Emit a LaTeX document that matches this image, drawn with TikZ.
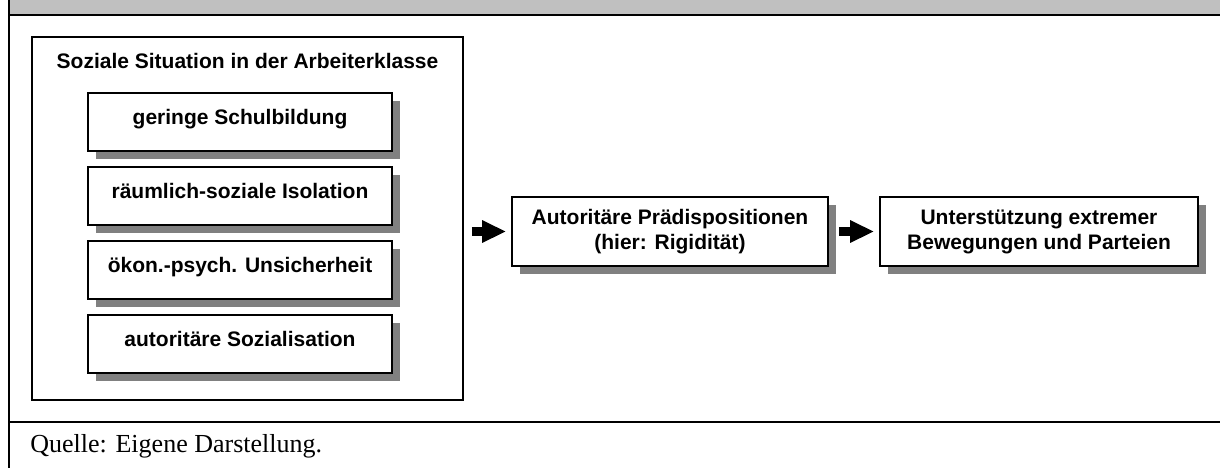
\documentclass[tikz,border=0pt]{standalone}
\usepackage{fontspec}
\setmainfont{Liberation Serif}
\setsansfont{Liberation Sans}
\usetikzlibrary{shadows,arrows.meta}
\definecolor{bargray}{HTML}{C0C0C0}
\definecolor{shadegray}{HTML}{808080}
\tikzstyle{factor}=[draw, line width=0.9pt, fill=white, minimum width=152pt, minimum height=29pt, inner sep=0pt, text depth=5pt, font=\sffamily\bfseries\fontsize{10.5}{12.5}\selectfont, drop shadow={shadow xshift=4pt, shadow yshift=-4pt, fill=shadegray, opacity=1}]
\tikzstyle{stage}=[factor, text depth=, minimum width=158pt, minimum height=34.5pt, align=center]
\tikzstyle{fatarrow}=[line width=4.5pt, -{Triangle[length=12pt, width=10.5pt]}]

\begin{document}
\begin{tikzpicture}[x=0.5pt, y=-0.5pt]
\useasboundingbox (0,0) rectangle (1220,468);

% frame
\fill[bargray] (8,0) rectangle (1220,15);
\draw[line width=1pt] (8,15) -- (1220,15);
\draw[line width=1pt] (8,422) -- (1220,422);
\draw[line width=1pt] (8.5,0) -- (8.5,468);

\node[draw, line width=0.9pt, minimum width=215.5pt, minimum height=181.5pt, inner sep=0pt] (situation) at (247.5,218.5) {};
\node[font=\sffamily\bfseries\fontsize{10.5}{12.5}\selectfont] (title) at (247.5,61) {Soziale Situation in der Arbeiterklasse};

\node[factor] (school) at (240,122) {geringe Schulbildung};
\node[factor] (isol) at (240,196) {räumlich-soziale Isolation};
\node[factor] (insec) at (240,270) {ökon.-psych. Unsicherheit};
\node[factor] (social) at (240,344) {autoritäre Sozialisation};

\node[stage] (disp) at (670,231.5) {Autoritäre Prädispositionen\\(hier: Rigidität)};
\node[stage, minimum width=159pt] (support) at (1039,231.5) {Unterstützung extremer\\Bewegungen und Parteien};

\draw[fatarrow, shorten <=4pt, shorten >=2.5pt] (situation.east |- disp.west) -- (disp.west);
\draw[fatarrow, shorten <=5pt, shorten >=2.5pt] (disp.east) -- (support.west);

\node[anchor=base west, inner sep=0pt, font=\fontsize{13}{15}\selectfont] (source) at (30,452) {Quelle: Eigene Darstellung.};

\end{tikzpicture}
\end{document}
